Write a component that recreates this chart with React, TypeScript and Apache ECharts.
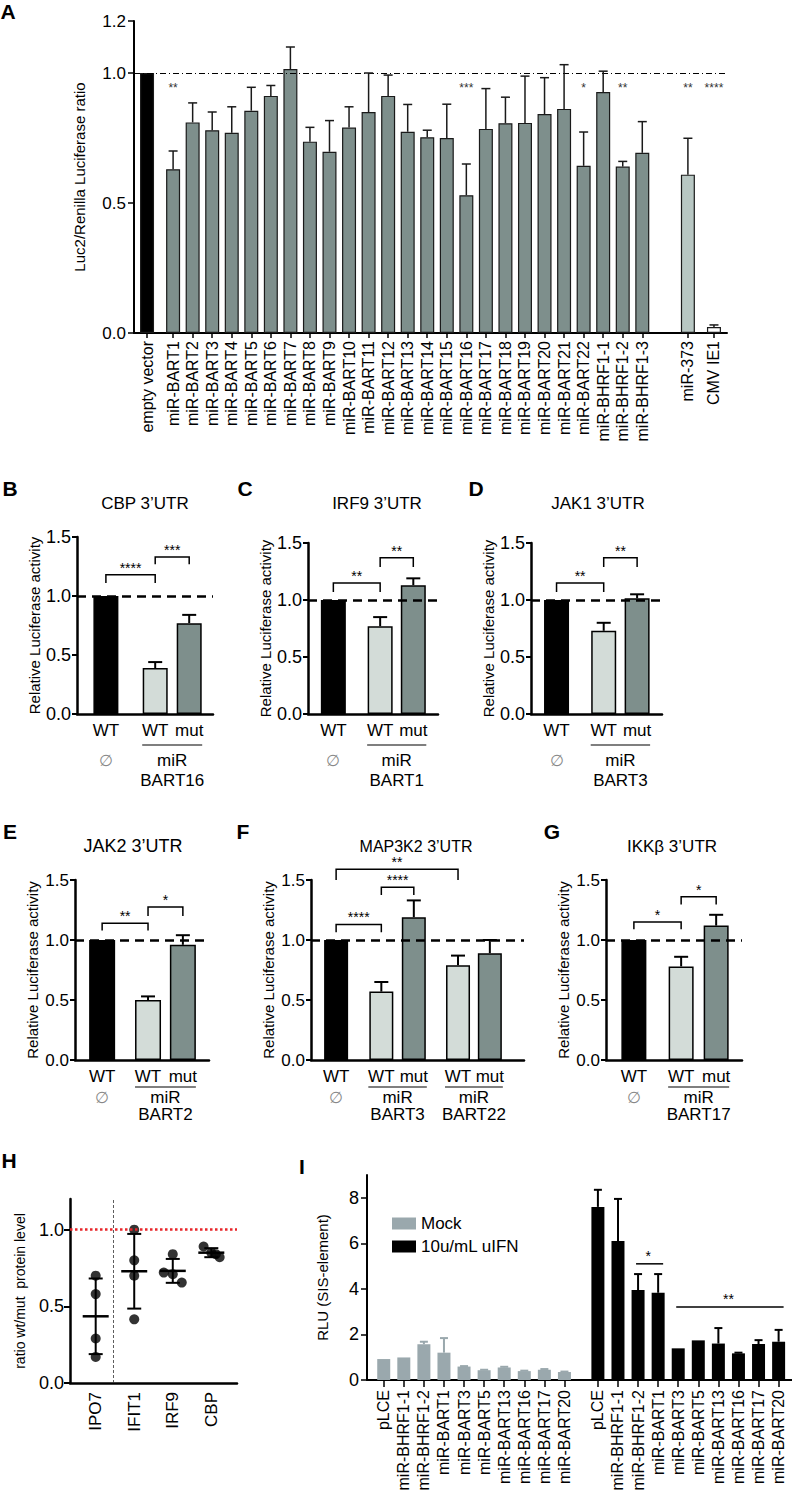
import React, { useEffect, useRef } from "react";
import * as echarts from "echarts";

const FONT = "'Liberation Sans', Arial, Helvetica, sans-serif";
const BLACK = "#000000";
const GRAY = "#7e8f8c";
const LIGHT = "#d3dcd8";
const PALE = "#b8c7c3";
const EDGE = "#1a1a1a";
const MOCK = "#9aa8ad";

// ---------------- Panel A data ----------------
const A_NAMES = [
  "empty vector", "miR-BART1", "miR-BART2", "miR-BART3", "miR-BART4", "miR-BART5", "miR-BART6",
  "miR-BART7", "miR-BART8", "miR-BART9", "miR-BART10", "miR-BART11", "miR-BART12", "miR-BART13",
  "miR-BART14", "miR-BART15", "miR-BART16", "miR-BART17", "miR-BART18", "miR-BART19", "miR-BART20",
  "miR-BART21", "miR-BART22", "miR-BHRF1-1", "miR-BHRF1-2", "miR-BHRF1-3", "miR-373", "CMV IE1",
];
const A_VALUES = [
  1.0, 0.63, 0.81, 0.78, 0.77, 0.855, 0.912, 1.015, 0.736, 0.697, 0.79, 0.85, 0.912, 0.774,
  0.753, 0.75, 0.53, 0.785, 0.807, 0.808, 0.842, 0.862, 0.643, 0.927, 0.64, 0.693, 0.609, 0.023,
];
const A_ERRORS = [
  0, 0.07, 0.075, 0.07, 0.1, 0.09, 0.04, 0.085, 0.055, 0.12, 0.08, 0.15, 0.08, 0.105,
  0.027, 0.13, 0.12, 0.155, 0.1, 0.18, 0.14, 0.17, 0.13, 0.08, 0.02, 0.12, 0.14, 0.008,
];
const A_STARS = [
  "", "**", "", "", "", "", "", "", "", "", "", "", "", "",
  "", "", "***", "", "", "", "", "", "*", "", "**", "", "**", "****",
];
const A_TICKS = [0, 0.5, 1.0, 1.2];

// ---------------- Panels B-G data ----------------
const B_VALUES = [1.0, 0.39, 0.77];
const B_ERRORS = [0, 0.05, 0.07];
const C_VALUES = [1.0, 0.77, 1.13];
const C_ERRORS = [0, 0.08, 0.06];
const D_VALUES = [1.0, 0.73, 1.015];
const D_ERRORS = [0, 0.07, 0.035];
const E_VALUES = [1.0, 0.5, 0.96];
const E_ERRORS = [0, 0.03, 0.08];
const F_VALUES = [1.0, 0.57, 1.19, 0.79, 0.89];
const F_ERRORS = [0, 0.08, 0.14, 0.08, 0.11];
const G_VALUES = [1.0, 0.78, 1.12];
const G_ERRORS = [0, 0.08, 0.09];
const REL_TICKS = [0, 0.5, 1.0, 1.5];

// ---------------- Panel H data ----------------
const H_GROUPS = ["IPO7", "IFIT1", "IRF9", "CBP"];
const H_POINTS = [
  [0.7, 0.58, 0.29, 0.17],
  [1.0, 0.8, 0.7, 0.415],
  [0.84, 0.72, 0.71, 0.655],
  [0.89, 0.85, 0.84, 0.82],
];
const H_TICKS = [0, 0.5, 1.0];

// ---------------- Panel I data ----------------
const I_NAMES = [
  "pLCE", "miR-BHRF1-1", "miR-BHRF1-2", "miR-BART1", "miR-BART3",
  "miR-BART5", "miR-BART13", "miR-BART16", "miR-BART17", "miR-BART20",
];
const I_MOCK = [0.92, 0.99, 1.57, 1.2, 0.59, 0.43, 0.55, 0.39, 0.45, 0.35];
const I_MOCK_ERR = [0, 0, 0.11, 0.64, 0.02, 0.02, 0.03, 0.02, 0.03, 0.02];
const I_IFN = [7.6, 6.1, 3.95, 3.83, 1.39, 1.74, 1.6, 1.17, 1.58, 1.68];
const I_IFN_ERR = [0.75, 1.85, 0.7, 0.82, 0, 0, 0.68, 0.03, 0.17, 0.52];
const I_TICKS = [0, 2, 4, 6, 8];

// ---------------- layout (positions) ----------------
const A_N = 92;
const A_SLOTS = A_NAMES.map((_, i) => (i === 0 ? 2 : i <= 25 ? 6 + 3 * (i - 1) : i === 26 ? 85 : 89));
const H_N = 14;
const H_SLOTS = [2, 5, 8, 11];
const H_JITTER = [
  [0, 0, 0, 0],
  [0, 0, 0, 0],
  [0, -0.7, 0, 0.7],
  [-0.6, 0, 0.35, 0.65],
];
const H_DIVIDER = 3.4;
const I_N = 128;

const TXT = { fontFamily: FONT, color: "#000" };

function errorBarRender(color: string, capHalf: number, lw: number) {
  return (params: any, api: any) => {
    const x = api.value(0);
    const v = api.value(1);
    const e = api.value(2);
    const a = api.coord([x, v]);
    const b = api.coord([x, v + e]);
    return {
      type: "group",
      children: [
        { type: "line", shape: { x1: a[0], y1: a[1], x2: b[0], y2: b[1] }, style: { stroke: color, lineWidth: lw } },
        { type: "line", shape: { x1: b[0] - capHalf, y1: b[1], x2: b[0] + capHalf, y2: b[1] }, style: { stroke: color, lineWidth: lw } },
      ],
    };
  };
}

function txt(text: string, x: number, y: number, size: number, fill = "#000", extra: any = {}) {
  return {
    type: "text",
    x,
    y,
    style: { text, fill, fontSize: size, fontFamily: FONT, align: "center", verticalAlign: "middle", ...extra },
  };
}

function buildOption() {
  const grids: any[] = [];
  const xAxes: any[] = [];
  const yAxes: any[] = [];
  const series: any[] = [];

  // ================= Panel A =================
  {
    const gi = grids.length;
    grids.push({ left: 134, top: 21, width: 593, height: 312 });
    const cats = Array.from({ length: A_N }, (_, i) => `_${i}`);
    A_SLOTS.forEach((s, i) => (cats[s] = A_NAMES[i]));
    const xi = xAxes.length;
    xAxes.push({
      gridIndex: gi,
      type: "category",
      data: cats,
      boundaryGap: false,
      axisLine: { lineStyle: { color: "#000", width: 2 } },
      axisTick: { interval: (_i: number, v: string) => !String(v).startsWith("_"), length: 5, lineStyle: { color: "#000", width: 1.5 } },
      axisLabel: {
        interval: 0,
        rotate: 90,
        margin: 8,
        fontSize: 16,
        ...TXT,
        formatter: (v: string) => (String(v).startsWith("_") ? "" : v),
      },
      splitLine: { show: false },
    });
    const yi = yAxes.length;
    yAxes.push({
      gridIndex: gi,
      type: "value",
      min: 0,
      max: 1.2,
      axisLine: { show: true, lineStyle: { color: "#000", width: 2 } },
      axisTick: { show: true, length: 6, customValues: A_TICKS, lineStyle: { color: "#000", width: 1.5 } },
      axisLabel: { customValues: A_TICKS, formatter: (v: number) => v.toFixed(1), fontSize: 17, margin: 8, ...TXT },
      splitLine: { show: false },
      name: "Luc2/Renilla Luciferase ratio",
      nameLocation: "middle",
      nameGap: 47,
      nameTextStyle: { fontSize: 15, ...TXT },
    });
    const fills = A_NAMES.map((_, i) => (i === 0 ? BLACK : i <= 25 ? GRAY : i === 26 ? PALE : "#ffffff"));
    const barData: any[] = Array.from({ length: A_N }, () => "-");
    A_SLOTS.forEach((s, i) => (barData[s] = { value: A_VALUES[i], itemStyle: { color: fills[i] } }));
    series.push({
      type: "bar",
      xAxisIndex: xi,
      yAxisIndex: yi,
      data: barData,
      barWidth: 14,
      itemStyle: { borderColor: EDGE, borderWidth: 1.2 },
      markLine: {
        silent: true,
        symbol: "none",
        label: { show: false },
        lineStyle: { color: "#000", width: 1.2, type: [6, 3, 1, 3] },
        data: [{ yAxis: 1 }],
      },
    });
    series.push({
      type: "custom",
      xAxisIndex: xi,
      yAxisIndex: yi,
      encode: { x: 0, y: 1 },
      z: 5,
      renderItem: errorBarRender("#1a1a1a", 4.5, 1.5),
      data: A_SLOTS.map((s, i) => [s, A_VALUES[i], A_ERRORS[i]]).filter((d) => d[2] > 0),
    });
    const starList = A_SLOTS.map((s, i) => ({ slot: s, text: A_STARS[i] })).filter((d) => d.text);
    series.push({
      type: "custom",
      xAxisIndex: xi,
      yAxisIndex: yi,
      encode: { x: 0, y: 1 },
      z: 5,
      renderItem: (params: any, api: any) => {
        const c = api.coord([api.value(0), api.value(1)]);
        return txt(starList[params.dataIndex].text, c[0], c[1] + 3, 12, "#333");
      },
      data: starList.map((d) => [d.slot, 0.955]),
    });
  }

  // ================= Panels B-G =================
  type Bracket = { a: number; b: number; y: number; leg: number; text: string };
  type Small = {
    grid: any;
    xMax: number;
    pos: number[];
    values: number[];
    errors: number[];
    colors: string[];
    labels: string[];
    groups: { a: number; b: number; name: string }[];
    brackets: Bracket[];
    barWidth: number;
    tickFont: number;
    off: { wt: number; line: number; mid: number; bot: number };
  };
  const row1 = { wt: 16, line: 31, mid: 46, bot: 66 };
  const row2 = { wt: 16, line: 27, mid: 37, bot: 54 };
  const three = [BLACK, LIGHT, GRAY];
  const smalls: Small[] = [
    {
      grid: { left: 77, top: 537, width: 136, height: 177 },
      xMax: 4,
      pos: [0.85, 2.3, 3.3],
      values: B_VALUES,
      errors: B_ERRORS,
      colors: three,
      labels: ["WT", "WT", "mut"],
      groups: [{ a: 1, b: 2, name: "BART16" }],
      brackets: [
        { a: 0, b: 1, y: 1.18, leg: 0.07, text: "****" },
        { a: 1, b: 2, y: 1.33, leg: 0.06, text: "***" },
      ],
      barWidth: 25,
      tickFont: 18,
      off: row1,
    },
    {
      grid: { left: 308, top: 543, width: 130, height: 171 },
      xMax: 4,
      pos: [0.78, 2.22, 3.24],
      values: C_VALUES,
      errors: C_ERRORS,
      colors: three,
      labels: ["WT", "WT", "mut"],
      groups: [{ a: 1, b: 2, name: "BART1" }],
      brackets: [
        { a: 0, b: 1, y: 1.15, leg: 0.08, text: "**" },
        { a: 1, b: 2, y: 1.37, leg: 0.08, text: "**" },
      ],
      barWidth: 25,
      tickFont: 18,
      off: row1,
    },
    {
      grid: { left: 531, top: 543, width: 131, height: 171 },
      xMax: 4,
      pos: [0.78, 2.22, 3.24],
      values: D_VALUES,
      errors: D_ERRORS,
      colors: three,
      labels: ["WT", "WT", "mut"],
      groups: [{ a: 1, b: 2, name: "BART3" }],
      brackets: [
        { a: 0, b: 1, y: 1.15, leg: 0.08, text: "**" },
        { a: 1, b: 2, y: 1.37, leg: 0.08, text: "**" },
      ],
      barWidth: 25,
      tickFont: 18,
      off: row1,
    },
    {
      grid: { left: 75, top: 880, width: 134, height: 180 },
      xMax: 4,
      pos: [0.81, 2.18, 3.22],
      values: E_VALUES,
      errors: E_ERRORS,
      colors: three,
      labels: ["WT", "WT", "mut"],
      groups: [{ a: 1, b: 2, name: "BART2" }],
      brackets: [
        { a: 0, b: 1, y: 1.14, leg: 0.06, text: "**" },
        { a: 1, b: 2, y: 1.275, leg: 0.075, text: "*" },
      ],
      barWidth: 26,
      tickFont: 17,
      off: row2,
    },
    {
      grid: { left: 311, top: 880, width: 213, height: 180 },
      xMax: 6.36,
      pos: [0.75, 2.1, 3.07, 4.39, 5.34],
      values: F_VALUES,
      errors: F_ERRORS,
      colors: [BLACK, LIGHT, GRAY, LIGHT, GRAY],
      labels: ["WT", "WT", "mut", "WT", "mut"],
      groups: [
        { a: 1, b: 2, name: "BART3" },
        { a: 3, b: 4, name: "BART22" },
      ],
      brackets: [
        { a: 0, b: 1, y: 1.13, leg: 0.065, text: "****" },
        { a: 1, b: 2, y: 1.44, leg: 0.065, text: "****" },
        { a: 0, b: 3, y: 1.59, leg: 0.09, text: "**" },
      ],
      barWidth: 24,
      tickFont: 17,
      off: row2,
    },
    {
      grid: { left: 606, top: 880, width: 136, height: 180 },
      xMax: 4,
      pos: [0.82, 2.21, 3.24],
      values: G_VALUES,
      errors: G_ERRORS,
      colors: three,
      labels: ["WT", "WT", "mut"],
      groups: [{ a: 1, b: 2, name: "BART17" }],
      brackets: [
        { a: 0, b: 1, y: 1.15, leg: 0.06, text: "*" },
        { a: 1, b: 2, y: 1.36, leg: 0.065, text: "*" },
      ],
      barWidth: 25,
      tickFont: 17,
      off: row2,
    },
  ];

  smalls.forEach((p) => {
    const gi = grids.length;
    grids.push(p.grid);
    const xi = xAxes.length;
    xAxes.push({
      gridIndex: gi,
      type: "value",
      min: 0,
      max: p.xMax,
      axisLine: { show: true, onZero: false, lineStyle: { color: "#000", width: 2.5 } },
      axisTick: { show: false },
      axisLabel: { show: false },
      splitLine: { show: false },
    });
    const yi = yAxes.length;
    yAxes.push({
      gridIndex: gi,
      type: "value",
      min: 0,
      max: 1.5,
      axisLine: { show: true, lineStyle: { color: "#000", width: 2.5 } },
      axisTick: { show: true, length: 5, customValues: REL_TICKS, lineStyle: { color: "#000", width: 2 } },
      axisLabel: { customValues: REL_TICKS, formatter: (v: number) => v.toFixed(1), fontSize: p.tickFont, margin: 6, ...TXT },
      splitLine: { show: false },
      name: "Relative Luciferase activity",
      nameLocation: "middle",
      nameGap: 35,
      nameTextStyle: { fontSize: 15, ...TXT },
    });
    series.push({
      type: "bar",
      xAxisIndex: xi,
      yAxisIndex: yi,
      barWidth: p.barWidth,
      itemStyle: { borderColor: "#000", borderWidth: 1.5 },
      data: p.values.map((v, i) => ({ value: [p.pos[i], v], itemStyle: { color: p.colors[i] } })),
      markLine: {
        silent: true,
        symbol: "none",
        label: { show: false },
        lineStyle: { color: "#000", width: 2.5, type: [9, 6] },
        data: [{ yAxis: 1 }],
      },
    });
    series.push({
      type: "custom",
      xAxisIndex: xi,
      yAxisIndex: yi,
      encode: { x: 0, y: 1 },
      z: 5,
      renderItem: errorBarRender("#000", 7, 2),
      data: p.pos.map((x, i) => [x, p.values[i], p.errors[i]]).filter((d) => d[2] > 0),
    });
    series.push({
      type: "custom",
      xAxisIndex: xi,
      yAxisIndex: yi,
      encode: { x: 0, y: 1 },
      z: 5,
      renderItem: (params: any, api: any) => {
        const br = p.brackets[params.dataIndex];
        const a = api.coord([p.pos[br.a], br.y]);
        const b = api.coord([p.pos[br.b], br.y]);
        const leg = api.coord([p.pos[br.a], br.y - br.leg])[1];
        return {
          type: "group",
          children: [
            {
              type: "polyline",
              shape: { points: [[a[0], leg], [a[0], a[1]], [b[0], b[1]], [b[0], leg]] },
              style: { stroke: "#000", lineWidth: 1.5, fill: null },
            },
            txt(br.text, (a[0] + b[0]) / 2, a[1] - 7, 14),
          ],
        };
      },
      data: p.brackets.map((br) => [p.pos[br.a], br.y]),
    });
    series.push({
      type: "custom",
      xAxisIndex: xi,
      yAxisIndex: yi,
      encode: { x: 0, y: 1 },
      renderItem: (params: any, api: any) => {
        const base = api.coord([0, 0])[1];
        const xs = p.pos.map((x) => api.coord([x, 0])[0]);
        const children: any[] = [];
        p.labels.forEach((t, i) => children.push(txt(t, xs[i], base + p.off.wt, 17)));
        children.push(txt("∅", xs[0], base + p.off.mid, 16, "#888"));
        p.groups.forEach((g) => {
          const xa = xs[g.a];
          const xb = xs[g.b];
          children.push({
            type: "line",
            shape: { x1: xa - 13, y1: base + p.off.line, x2: xb + 13, y2: base + p.off.line },
            style: { stroke: "#000", lineWidth: 1.2 },
          });
          children.push(txt("miR", (xa + xb) / 2, base + p.off.mid, 17));
          children.push(txt(g.name, (xa + xb) / 2, base + p.off.bot, 17));
        });
        return { type: "group", children };
      },
      data: [[0, 0]],
    });
  });

  // ================= Panel H =================
  {
    const gi = grids.length;
    grids.push({ left: 70, top: 1199, width: 167, height: 184 });
    const cats = Array.from({ length: H_N }, (_, i) => `_${i}`);
    H_SLOTS.forEach((s, i) => (cats[s] = H_GROUPS[i]));
    xAxes.push({
      gridIndex: gi,
      type: "category",
      data: cats,
      boundaryGap: false,
      axisLine: { lineStyle: { color: "#000", width: 2.5 } },
      axisTick: { show: false },
      axisLabel: {
        interval: 0,
        rotate: 90,
        margin: 9,
        fontSize: 17,
        ...TXT,
        formatter: (v: string) => (String(v).startsWith("_") ? "" : v),
      },
      splitLine: { show: false },
    });
    const xv = xAxes.length;
    xAxes.push({ gridIndex: gi, type: "value", min: 0, max: H_N - 1, show: false, splitLine: { show: false } });
    const yi = yAxes.length;
    yAxes.push({
      gridIndex: gi,
      type: "value",
      min: 0,
      max: 1.2,
      axisLine: { show: true, lineStyle: { color: "#000", width: 2.5 } },
      axisTick: { show: true, length: 6, customValues: H_TICKS, lineStyle: { color: "#000", width: 2 } },
      axisLabel: { customValues: H_TICKS, formatter: (v: number) => v.toFixed(1), fontSize: 18, margin: 6, ...TXT },
      splitLine: { show: false },
      name: "ratio wt/mut  protein level",
      nameLocation: "middle",
      nameGap: 43,
      nameTextStyle: { fontSize: 14, ...TXT },
    });
    const pts: number[][] = [];
    H_POINTS.forEach((grp, g) => grp.forEach((v, k) => pts.push([H_SLOTS[g] + H_JITTER[g][k], v])));
    series.push({
      type: "scatter",
      xAxisIndex: xv,
      yAxisIndex: yi,
      symbol: "circle",
      symbolSize: 10,
      itemStyle: { color: "#000" },
      data: pts,
      markLine: {
        silent: true,
        symbol: "none",
        label: { show: false },
        data: [
          { yAxis: 1, lineStyle: { color: "#e8262a", type: "dotted", width: 2.5 } },
          { xAxis: H_DIVIDER, lineStyle: { color: "#333", type: [3, 2], width: 0.8 } },
        ],
      },
    });
    const stats = H_POINTS.map((grp, g) => {
      const m = grp.reduce((s, v) => s + v, 0) / grp.length;
      const sd = Math.sqrt(grp.reduce((s, v) => s + (v - m) * (v - m), 0) / (grp.length - 1));
      return [H_SLOTS[g], m, sd];
    });
    series.push({
      type: "custom",
      xAxisIndex: xv,
      yAxisIndex: yi,
      encode: { x: 0, y: 1 },
      z: 5,
      renderItem: (params: any, api: any) => {
        const x = api.value(0);
        const m = api.value(1);
        const sd = api.value(2);
        const c = api.coord([x, m]);
        const hi = api.coord([x, m + sd]);
        const lo = api.coord([x, m - sd]);
        const st = { stroke: "#000", lineWidth: 2 };
        return {
          type: "group",
          children: [
            { type: "line", shape: { x1: c[0] - 13, y1: c[1], x2: c[0] + 13, y2: c[1] }, style: { stroke: "#000", lineWidth: 2.5 } },
            { type: "line", shape: { x1: hi[0], y1: hi[1], x2: lo[0], y2: lo[1] }, style: st },
            { type: "line", shape: { x1: hi[0] - 7, y1: hi[1], x2: hi[0] + 7, y2: hi[1] }, style: st },
            { type: "line", shape: { x1: lo[0] - 7, y1: lo[1], x2: lo[0] + 7, y2: lo[1] }, style: st },
          ],
        };
      },
      data: stats,
    });
  }

  // ================= Panel I =================
  {
    const gi = grids.length;
    grids.push({ left: 367, top: 1175, width: 425, height: 205 });
    const cats = Array.from({ length: I_N }, (_, i) => `_${i}`);
    const mockSlot = (k: number) => 5 + 6 * k;
    const ifnSlot = (k: number) => 69 + 6 * k;
    I_NAMES.forEach((n, k) => {
      cats[mockSlot(k)] = `m|${n}`;
      cats[ifnSlot(k)] = `u|${n}`;
    });
    const xi = xAxes.length;
    xAxes.push({
      gridIndex: gi,
      type: "category",
      data: cats,
      boundaryGap: false,
      axisLine: { lineStyle: { color: "#000", width: 2 } },
      axisTick: { interval: (_i: number, v: string) => !String(v).startsWith("_"), length: 7, lineStyle: { color: "#000", width: 1.5 } },
      axisLabel: {
        interval: 0,
        rotate: 90,
        margin: 10,
        fontSize: 16,
        ...TXT,
        formatter: (v: string) => (String(v).startsWith("_") ? "" : String(v).slice(2)),
      },
      splitLine: { show: false },
    });
    const yi = yAxes.length;
    yAxes.push({
      gridIndex: gi,
      type: "value",
      min: 0,
      max: 9,
      axisLine: { show: true, lineStyle: { color: "#000", width: 2 } },
      axisTick: { show: true, length: 6, customValues: I_TICKS, lineStyle: { color: "#000", width: 1.5 } },
      axisLabel: { customValues: I_TICKS, fontSize: 18, margin: 8, ...TXT },
      splitLine: { show: false },
      name: "RLU (SIS-element)",
      nameLocation: "middle",
      nameGap: 37,
      nameTextStyle: { fontSize: 15, ...TXT },
    });
    const mockData: any[] = Array.from({ length: I_N }, () => "-");
    const ifnData: any[] = Array.from({ length: I_N }, () => "-");
    I_NAMES.forEach((_, k) => {
      mockData[mockSlot(k)] = I_MOCK[k];
      ifnData[ifnSlot(k)] = I_IFN[k];
    });
    series.push({
      name: "Mock",
      type: "bar",
      xAxisIndex: xi,
      yAxisIndex: yi,
      barWidth: 13,
      barGap: "-100%",
      itemStyle: { color: MOCK },
      data: mockData,
    });
    series.push({
      name: "10u/mL uIFN",
      type: "bar",
      xAxisIndex: xi,
      yAxisIndex: yi,
      barWidth: 13,
      barGap: "-100%",
      itemStyle: { color: BLACK },
      data: ifnData,
    });
    series.push({
      type: "custom",
      xAxisIndex: xi,
      yAxisIndex: yi,
      encode: { x: 0, y: 1 },
      z: 5,
      renderItem: errorBarRender(MOCK, 4, 2),
      data: I_NAMES.map((_, k) => [mockSlot(k), I_MOCK[k], I_MOCK_ERR[k]]).filter((d) => d[2] > 0),
    });
    series.push({
      type: "custom",
      xAxisIndex: xi,
      yAxisIndex: yi,
      encode: { x: 0, y: 1 },
      z: 5,
      renderItem: errorBarRender("#000", 4, 2),
      data: I_NAMES.map((_, k) => [ifnSlot(k), I_IFN[k], I_IFN_ERR[k]]).filter((d) => d[2] > 0),
    });
    const sig = [
      { a: 2, b: 3, y: 5.1, text: "*" },
      { a: 4, b: 9, y: 3.2, text: "**" },
    ];
    series.push({
      type: "custom",
      xAxisIndex: xi,
      yAxisIndex: yi,
      encode: { x: 0, y: 1 },
      z: 5,
      renderItem: (params: any, api: any) => {
        const s = sig[params.dataIndex];
        const a = api.coord([ifnSlot(s.a), s.y]);
        const b = api.coord([ifnSlot(s.b), s.y]);
        return {
          type: "group",
          children: [
            { type: "line", shape: { x1: a[0] - 2, y1: a[1], x2: b[0] + 5, y2: b[1] }, style: { stroke: "#000", lineWidth: 1.5 } },
            txt(s.text, (a[0] + b[0]) / 2, a[1] - 8, 14),
          ],
        };
      },
      data: sig.map((s) => [ifnSlot(s.a), s.y]),
    });
  }

  // ================= Texts: panel letters & titles =================
  const letters = [
    ["A", 8, 11],
    ["B", 10, 488],
    ["C", 245, 488],
    ["D", 476, 488],
    ["E", 10, 831],
    ["F", 243, 831],
    ["G", 552, 831],
    ["H", 9, 1160],
    ["I", 302, 1166],
  ];
  const titles: [string, number, number, number][] = [
    ["CBP 3’UTR", 145, 503, 17],
    ["IRF9 3’UTR", 377, 503, 17],
    ["JAK1 3’UTR", 598, 503, 17],
    ["JAK2 3’UTR", 133, 846, 18],
    ["MAP3K2 3’UTR", 416, 846, 16],
    ["IKKβ 3’UTR", 672, 846, 17],
  ];
  const graphic: any[] = [];
  letters.forEach(([t, x, y]) =>
    graphic.push(txt(t as string, x as number, y as number, 21, "#000", { fontWeight: "bold" }))
  );
  titles.forEach(([t, x, y, s]) => graphic.push(txt(t, x, y, s)));

  return {
    animation: false,
    backgroundColor: "#ffffff",
    textStyle: { fontFamily: FONT },
    grid: grids,
    xAxis: xAxes,
    yAxis: yAxes,
    series,
    legend: {
      data: ["Mock", "10u/mL uIFN"],
      left: 387,
      top: 1210,
      orient: "vertical",
      itemWidth: 24,
      itemHeight: 12,
      itemGap: 6,
      icon: "rect",
      selectedMode: false,
      textStyle: { fontSize: 17, fontFamily: FONT, color: "#000" },
    },
    graphic,
  };
}

export default function App() {
  const ref = useRef<HTMLDivElement>(null);
  useEffect(() => {
    document.body.style.margin = "0";
    const chart = echarts.init(ref.current as HTMLDivElement, null, { renderer: "svg" });
    chart.setOption(buildOption() as any);
    return () => chart.dispose();
  }, []);
  return <div ref={ref} style={{ width: 792, height: 1494 }} />;
}
